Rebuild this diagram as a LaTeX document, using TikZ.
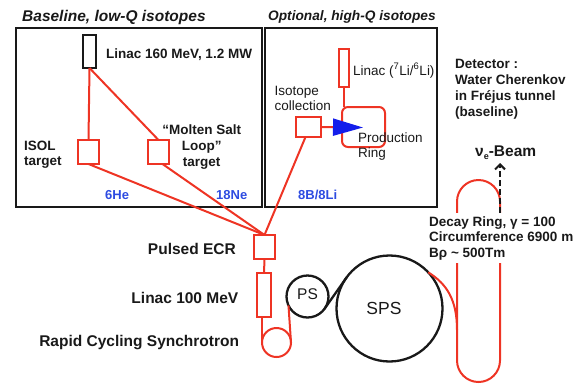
\documentclass[tikz,border=0pt]{standalone}
\usepackage{fontspec}
\setmainfont{Liberation Sans}
\usetikzlibrary{arrows.meta,calc}
\definecolor{accred}{RGB}{238,52,36}
\definecolor{labblue}{RGB}{45,75,225}
\definecolor{arrblue}{RGB}{20,30,235}
\definecolor{inkblack}{RGB}{25,25,25}
\begin{document}
\begin{tikzpicture}[x=1pt,y=-1pt,
  redline/.style={draw=accred,line width=2pt},
  panel/.style={draw=inkblack,line width=2.3pt,inner sep=0pt,outer sep=0pt,rectangle},
  redbox/.style={draw=accred,line width=2pt,inner sep=0pt,outer sep=0pt,rectangle},
  blackbox/.style={draw=inkblack,line width=2.2pt,inner sep=0pt,outer sep=0pt,rectangle},
  lbl/.style={inner sep=0pt,text=inkblack,font=\fontsize{13.5}{15.5}\selectfont\bfseries},
  biglbl/.style={inner sep=0pt,text=inkblack,font=\fontsize{15.5}{17}\selectfont\bfseries},
  reglbl/.style={inner sep=0pt,text=inkblack,font=\fontsize{13.5}{15.5}\selectfont},
  bluelbl/.style={inner sep=0pt,text=labblue,font=\fontsize{13}{15}\selectfont\bfseries},
  blackring/.style={circle,draw=inkblack,line width=2.3pt,inner sep=0pt,outer sep=0pt},
  redring/.style={circle,draw=accred,line width=2pt,inner sep=0pt,outer sep=0pt}
]
\useasboundingbox (0,0) rectangle (583,384);

% titles
\node[anchor=base west,inner sep=0pt,text=inkblack,font=\fontsize{15.5}{17}\selectfont\bfseries\itshape] (titleA) at (22,21.5) {Baseline, low-Q isotopes};
\node[anchor=base west,inner sep=0pt,text=inkblack,font=\fontsize{13.7}{16}\selectfont\bfseries\itshape] (titleB) at (268,20.7) {Optional, high-Q isotopes};

% panels
\node[panel,minimum width=246pt,minimum height=179pt,anchor=north west] (boxA) at (16,28) {};
\node[panel,minimum width=172pt,minimum height=179pt,anchor=north west] (boxB) at (265,28) {};

% left panel
\node[blackbox,minimum width=13pt,minimum height=33pt] (lin160) at (89.5,51.5) {};
\node[lbl,anchor=base west] (lin160l) at (106,58.3) {Linac 160 MeV, 1.2 MW};
\node[redbox,minimum width=21pt,minimum height=24pt] (isol) at (88.5,152) {};
\node[redbox,minimum width=21pt,minimum height=24pt] (molten) at (158.5,152) {};
\node[lbl,anchor=base west,align=left] (isoll) at (24,165.5) {ISOL\\target};
\node[lbl,anchor=base,align=center,font=\fontsize{13.5}{16}\selectfont\bfseries] (moltenl) at (201.7,166.5) {“Molten Salt\\Loop”\\target};
\node[bluelbl,anchor=base west] (he) at (105,199.5) {6He};
\node[bluelbl,anchor=base west] (ne) at (216,199.5) {18Ne};
\node[bluelbl,anchor=base west] (bli) at (298,199.5) {8B/8Li};

% right panel
\node[redbox,minimum width=10pt,minimum height=38pt] (lilin) at (344,68) {};
\node[reglbl,anchor=base west] (lilinl) at (353,75) {Linac (\textsuperscript{7}Li/\textsuperscript{6}Li)};
\node[redbox,rounded corners=6pt,minimum width=43pt,minimum height=40pt] (prod) at (363.5,127) {};
\node[redbox,minimum width=25pt,minimum height=20pt] (iso) at (308.5,127) {};
\node[reglbl,anchor=base west,align=left,font=\fontsize{13.5}{15.7}\selectfont] (isol2) at (274.5,110.7) {Isotope\\collection};
\coordinate (tip) at (363,127.5);
\draw[redline] (lilin.south) -- (lilin.south |- prod.north);
\draw[redline,-{Triangle[length=30pt,width=17pt,color=arrblue,fill=arrblue]}] (iso.east) -- (tip);
\node[reglbl,anchor=base west,align=left,font=\fontsize{13.5}{15}\selectfont] (prodl) at (358,157.7) {Production\\Ring};

% injector chain
\node[redbox,minimum width=21pt,minimum height=24pt] (ecr) at (264.5,247) {};
\node[redbox,minimum width=14pt,minimum height=44pt] (lin100) at (264,295) {};
\node[redring,minimum size=29pt] (rcs) at (276.5,342.5) {};
\node[blackring,minimum size=42pt] (ps) at (307.5,296.5) {};
\node[blackring,minimum size=106pt] (sps) at (389.5,308.5) {};
\node[inner sep=0pt,text=inkblack,font=\fontsize{15.5}{17}\selectfont] (psl) at (307.5,294) {PS};
\node[inner sep=0pt,text=inkblack,font=\fontsize{17.5}{19}\selectfont] (spsl) at (384,308.3) {SPS};
\node[biglbl,anchor=base east] (ecrl) at (236,254) {Pulsed ECR};
\node[biglbl,anchor=base east] (lin100l) at (238.5,303.3) {Linac 100 MeV};
\node[biglbl,anchor=base east] (rcsl) at (239.3,346) {Rapid Cycling Synchrotron};

% connectors
\draw[redline] (lin160.south) -- (isol.north);
\draw[redline] (lin160.south) -- (molten.north);
\draw[redline] (isol.south) -- (ecr.north);
\draw[redline] ([xshift=4pt]molten.south) -- (ecr.north);
\draw[redline] ([xshift=-3pt]iso.south) -- (ecr.north);
\draw[redline] (ecr.south) -- (lin100.north);
\draw[redline] (rcs.west |- lin100.south) -- (rcs.west);
\draw[redline] (rcs.east) -- (ps.205);
\draw[draw=inkblack,line width=2.3pt] (ps.-36) -- (sps.144);

% decay ring
\node[draw=accred,line width=2pt,rounded corners=21.5pt,minimum width=43pt,minimum height=202pt,inner sep=0pt] (decay) at (478.5,281) {};
\coordinate (merge) at (457,330);
\draw[redline] (sps.43) .. controls (447,284) and (457,300) .. (merge);
\node[lbl,anchor=base west,align=left,fill=white,inner sep=3pt] (decayl) at (426,257) {Decay Ring, γ = 100\\Circumference 6900 m\\Bρ \textasciitilde{} 500Tm};
\coordinate (beamfoot) at (500,213);
\coordinate (beamtip) at (500,163);
\draw[draw=inkblack,line width=2pt,dash pattern=on 6pt off 3pt,-{Straight Barb[length=5pt,width=10pt]}] (beamfoot) -- (beamtip);
\node[biglbl,anchor=base west] (beaml) at (475,156.7) {ν\raisebox{-0.35ex}{\fontsize{9}{9}\selectfont e}-Beam};
\node[lbl,anchor=base west,align=left,font=\fontsize{13.5}{16}\selectfont\bfseries] (detl) at (455,116) {Detector :\\Water Cherenkov\\in Fréjus tunnel\\(baseline)};
\end{tikzpicture}
\end{document}
